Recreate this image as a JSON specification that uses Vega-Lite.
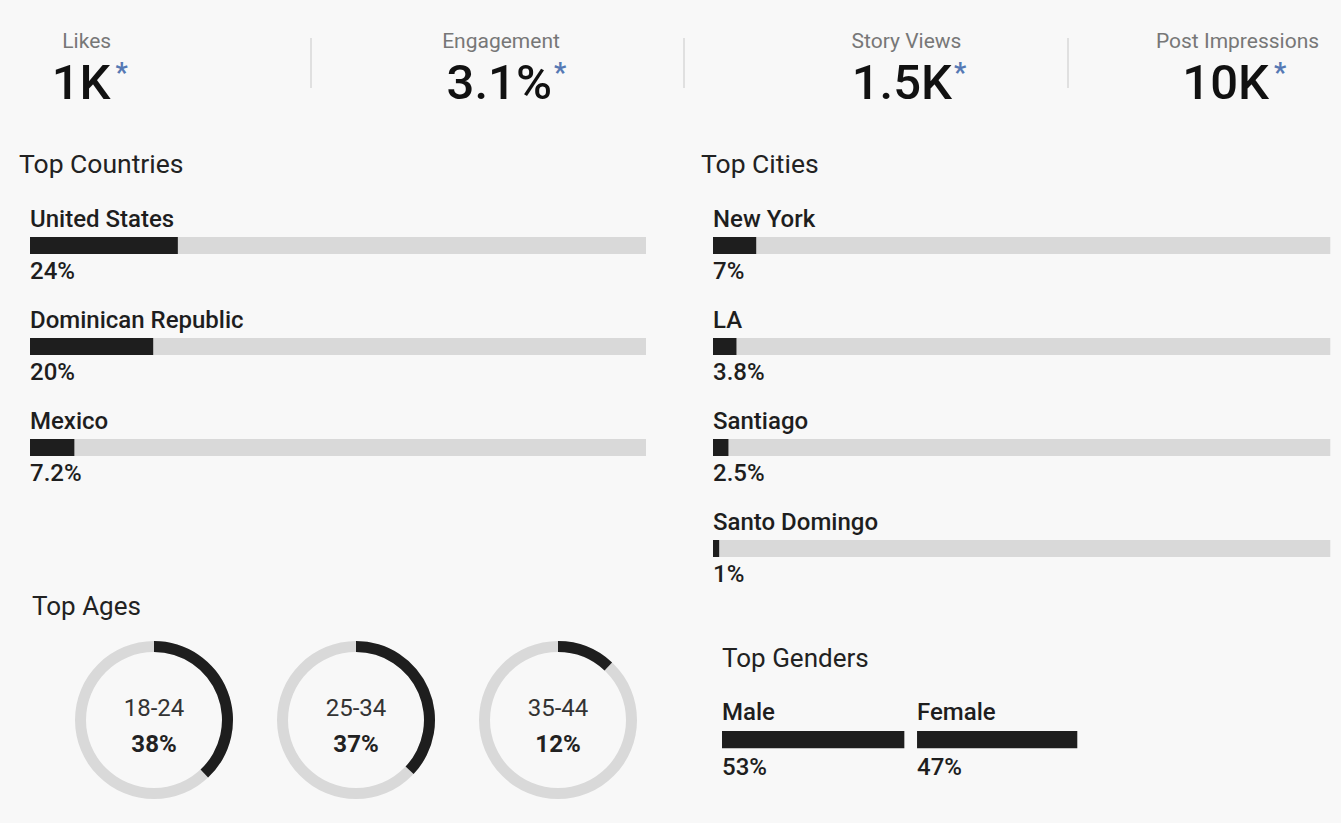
{
  "$schema": "https://vega.github.io/schema/vega-lite/v6.json",
  "background": "#f8f8f8",
  "padding": 0,
  "bounds": "flush",
  "spacing": 65,
  "config": {
    "view": {"stroke": null},
    "font": "Roboto",
    "title": {"fontSize": 26, "fontWeight": "normal", "color": "#222222", "anchor": "start", "frame": "group", "baseline": "alphabetic", "font": "Roboto"}
  },
  "vconcat": [
    {
      "width": 1341,
      "height": 130,
      "data": {"values": [
        {"metric": "Likes", "value": "1K", "rank": 1},
        {"metric": "Engagement", "value": "3.1%", "rank": 2},
        {"metric": "Story Views", "value": "1.5K", "rank": 3},
        {"metric": "Post Impressions", "value": "10K", "rank": 4}
      ]},
      "resolve": {"scale": {"x": "independent", "y": "independent"}},
      "layer": [
        {
          "mark": {"type": "text", "fontSize": 21, "color": "#777777", "baseline": "alphabetic", "align": "center", "dy": -17},
          "encoding": {
            "x": {"field": "rank", "type": "quantitative", "axis": null, "scale": {"domain": [1, 2, 3, 4], "range": [86.7, 501, 906.5, 1237.5], "nice": false, "zero": false}},
            "text": {"field": "metric"}
          }
        },
        {
          "mark": {"type": "text", "fontSize": 49, "fontWeight": 500, "color": "#111111", "baseline": "alphabetic", "align": "right", "dy": 34},
          "encoding": {
            "x": {"field": "rank", "type": "quantitative", "axis": null, "scale": {"domain": [1, 2, 3, 4], "range": [110.5, 552, 952, 1269], "nice": false, "zero": false}},
            "text": {"field": "value"}
          }
        },
        {
          "mark": {"type": "text", "text": "*", "fontSize": 27, "fontWeight": "bold", "color": "#5679b4", "baseline": "alphabetic", "align": "left", "dy": 17},
          "encoding": {
            "x": {"field": "rank", "type": "quantitative", "axis": null, "scale": {"domain": [1, 2, 3, 4], "range": [115.5, 554, 954, 1274], "nice": false, "zero": false}}
          }
        },
        {
          "transform": [{"filter": "datum.rank < 4"}],
          "mark": {"type": "rule", "color": "#d9d9d9", "strokeWidth": 1.5},
          "encoding": {
            "x": {"field": "rank", "type": "quantitative", "axis": null, "scale": {"domain": [1, 2, 3], "range": [311, 684, 1068], "nice": false, "zero": false}},
            "y": {"datum": 0, "type": "quantitative", "axis": null, "scale": {"domain": [0, 1], "range": [38, 88], "nice": false}},
            "y2": {"datum": 1}
          }
        }
      ]
    },
    {
      "columns": 2,
      "spacing": 0,
      "bounds": "flush",
      "align": "each",
      "concat": [
        {
          "width": 680,
          "height": 435,
          "title": {"text": "Top Countries", "dx": 19, "offset": 17, "fontSize": 26.5},
          "data": {"values": [
            {"country": "United States", "pct": 24, "label": "24%"},
            {"country": "Dominican Republic", "pct": 20, "label": "20%"},
            {"country": "Mexico", "pct": 7.2, "label": "7.2%"}
          ]},
          "encoding": {
            "y": {"field": "country", "type": "nominal", "sort": null, "axis": null, "scale": {"range": [0, 303], "paddingInner": 0, "paddingOuter": 0}}
          },
          "layer": [
            {
              "mark": {"type": "bar", "height": 17, "color": "#d9d9d9"},
              "encoding": {
                "x": {"datum": 0, "type": "quantitative", "axis": null, "scale": {"domain": [0, 100], "range": [30, 646], "nice": false}},
                "x2": {"datum": 100}
              }
            },
            {
              "mark": {"type": "bar", "height": 17, "color": "#1e1e1e"},
              "encoding": {"x": {"field": "pct", "type": "quantitative"}}
            },
            {
              "mark": {"type": "text", "align": "left", "baseline": "alphabetic", "dy": -18.5, "fontSize": 24, "fontWeight": 500, "color": "#1e1e1e"},
              "encoding": {"x": {"datum": 0, "type": "quantitative"}, "text": {"field": "country"}}
            },
            {
              "mark": {"type": "text", "align": "left", "baseline": "alphabetic", "dy": 33.5, "fontSize": 24, "fontWeight": 500, "color": "#1e1e1e"},
              "encoding": {"x": {"datum": 0, "type": "quantitative"}, "text": {"field": "label"}}
            }
          ]
        },
        {
          "width": 661,
          "height": 435,
          "title": {"text": "Top Cities", "dx": 21, "offset": 17, "fontSize": 26.5},
          "data": {"values": [
            {"city": "New York", "pct": 7, "label": "7%"},
            {"city": "LA", "pct": 3.8, "label": "3.8%"},
            {"city": "Santiago", "pct": 2.5, "label": "2.5%"},
            {"city": "Santo Domingo", "pct": 1, "label": "1%"}
          ]},
          "encoding": {
            "y": {"field": "city", "type": "nominal", "sort": null, "axis": null, "scale": {"range": [0, 404], "paddingInner": 0, "paddingOuter": 0}}
          },
          "layer": [
            {
              "mark": {"type": "bar", "height": 17, "color": "#d9d9d9"},
              "encoding": {
                "x": {"datum": 0, "type": "quantitative", "axis": null, "scale": {"domain": [0, 100], "range": [33, 650.3], "nice": false}},
                "x2": {"datum": 100}
              }
            },
            {
              "mark": {"type": "bar", "height": 17, "color": "#1e1e1e"},
              "encoding": {"x": {"field": "pct", "type": "quantitative"}}
            },
            {
              "mark": {"type": "text", "align": "left", "baseline": "alphabetic", "dy": -18.5, "fontSize": 24, "fontWeight": 500, "color": "#1e1e1e"},
              "encoding": {"x": {"datum": 0, "type": "quantitative"}, "text": {"field": "city"}}
            },
            {
              "mark": {"type": "text", "align": "left", "baseline": "alphabetic", "dy": 33.5, "fontSize": 24, "fontWeight": 500, "color": "#1e1e1e"},
              "encoding": {"x": {"datum": 0, "type": "quantitative"}, "text": {"field": "label"}}
            }
          ]
        },
        {
          "data": {"values": [
            {"age": "18-24", "pct": 38, "label": "38%"},
            {"age": "25-34", "pct": 37, "label": "37%"},
            {"age": "35-44", "pct": 12, "label": "12%"}
          ]},
          "title": {"text": "Top Ages", "dx": 32, "offset": 10},
          "spacing": 0,
          "bounds": "flush",
          "facet": {"column": {"field": "age", "type": "nominal", "header": {"title": null, "labels": false, "labelPadding": 0, "titlePadding": 0}}},
          "spec": {
            "width": 202,
            "height": 180,
            "layer": [
              {
                "mark": {"type": "arc", "innerRadius": 68, "outerRadius": 79, "theta": 0, "theta2": 6.2832, "color": "#d9d9d9", "xOffset": 53},
                "encoding": {}
              },
              {
                "mark": {"type": "arc", "innerRadius": 68, "outerRadius": 79, "color": "#1e1e1e", "xOffset": 53},
                "encoding": {"theta": {"field": "pct", "type": "quantitative", "scale": {"domain": [0, 100]}}}
              },
              {
                "mark": {"type": "text", "align": "center", "baseline": "alphabetic", "dx": 53, "dy": -4, "fontSize": 24, "color": "#333333"},
                "encoding": {"text": {"field": "age"}}
              },
              {
                "mark": {"type": "text", "align": "center", "baseline": "alphabetic", "dx": 53, "dy": 32, "fontSize": 24, "fontWeight": "bold", "color": "#222222"},
                "encoding": {"text": {"field": "label"}}
              }
            ]
          }
        },
        {
          "width": 661,
          "height": 193,
          "title": {"text": "Top Genders", "dx": 42, "offset": -42},
          "data": {"values": [
            {"gender": "Male", "pct": 53, "label": "53%"},
            {"gender": "Female", "pct": 47, "label": "47%"}
          ]},
          "transform": [
            {"stack": "pct", "groupby": [], "sort": [{"field": "gender", "order": "descending"}], "as": ["x0", "x1"]}
          ],
          "encoding": {
            "y": {"datum": "g", "type": "nominal", "axis": null, "scale": {"range": [60, 159.4]}}
          },
          "layer": [
            {
              "mark": {"type": "bar", "height": 17.3, "color": "#1e1e1e", "x2Offset": -12.7},
              "encoding": {
                "x": {"field": "x0", "type": "quantitative", "axis": null, "scale": {"domain": [0, 100], "range": [42, 410], "nice": false}},
                "x2": {"field": "x1"}
              }
            },
            {
              "mark": {"type": "text", "align": "left", "baseline": "alphabetic", "dy": -19.7, "fontSize": 24, "fontWeight": 500, "color": "#1e1e1e"},
              "encoding": {"x": {"field": "x0", "type": "quantitative"}, "text": {"field": "gender"}}
            },
            {
              "mark": {"type": "text", "align": "left", "baseline": "alphabetic", "dy": 35.3, "fontSize": 24, "fontWeight": 500, "color": "#1e1e1e"},
              "encoding": {"x": {"field": "x0", "type": "quantitative"}, "text": {"field": "label"}}
            }
          ]
        }
      ]
    }
  ]
}
